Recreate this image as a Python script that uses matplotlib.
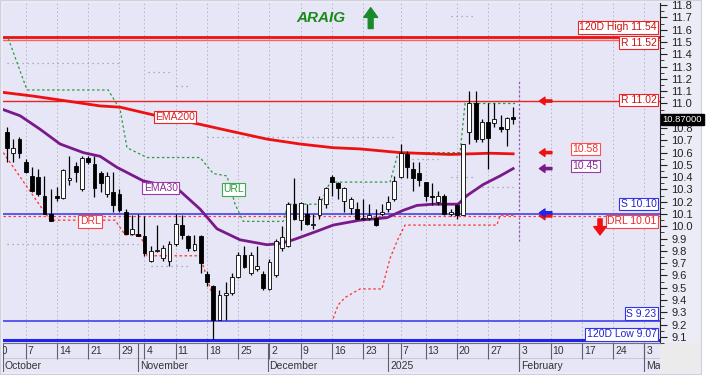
import matplotlib.pyplot as plt
from matplotlib.patches import Rectangle
import numpy as np

plt.rcParams['font.family'] = ['Liberation Sans', 'DejaVu Sans']

# daily candles (trading-day index 0..81)
opens = [10.77, 10.60, 10.71, 10.52, 10.41, 10.40, 10.25, 10.10, 10.25, 10.23,
         10.38, 10.49, 10.30, 10.56, 10.51, 10.43, 10.26, 10.28, 10.26, 10.12,
         9.94, 9.94, 9.92, 9.72, 9.80, 9.74, 9.72, 9.86, 10.01, 9.92,
         9.81, 9.92, 9.61, 9.51, 9.24, 9.44, 9.46, 9.59, 9.77, 9.62,
         9.65, 9.61, 9.49, 9.60, 9.82, 9.84, 10.18, 10.05, 10.10, 10.01,
         10.09, 10.18, 10.40, 10.35, 10.21, 10.15, 10.14, 10.06, 10.07, 10.07,
         10.10, 10.14, 10.22, 10.40, 10.59, 10.47, 10.43, 10.36, 10.25, 10.20,
         10.25, 10.10, 10.17, 10.09, 10.77, 11.00, 10.71, 10.85, 10.84, 10.81,
         10.79, 10.89]
highs = [10.81, 10.71, 10.73, 10.55, 10.48, 10.47, 10.41, 10.30, 10.32, 10.47,
         10.57, 10.52, 10.57, 10.57, 10.57, 10.45, 10.44, 10.44, 10.30, 10.14,
         10.09, 10.10, 10.08, 9.84, 10.01, 9.85, 9.88, 10.10, 10.09, 9.93,
         9.93, 9.93, 9.64, 9.52, 9.48, 9.55, 9.62, 9.79, 9.84, 9.79,
         9.84, 9.64, 9.73, 9.90, 10.00, 10.20, 10.39, 10.20, 10.18, 10.10,
         10.25, 10.32, 10.42, 10.36, 10.32, 10.24, 10.20, 10.22, 10.18, 10.14,
         10.18, 10.25, 10.41, 10.67, 10.61, 10.52, 10.52, 10.36, 10.35, 10.29,
         10.26, 10.14, 10.18, 10.67, 11.10, 11.10, 10.87, 11.00, 11.00, 10.91,
         10.89, 10.97]
lows = [10.52, 10.52, 10.56, 10.43, 10.28, 10.25, 10.10, 10.04, 10.21, 10.22,
        10.34, 10.36, 10.29, 10.51, 10.24, 10.28, 10.24, 10.12, 10.12, 9.94,
        9.93, 9.92, 9.76, 9.71, 9.79, 9.72, 9.68, 9.84, 9.90, 9.80,
        9.80, 9.62, 9.51, 9.08, 9.24, 9.24, 9.44, 9.58, 9.66, 9.60,
        9.64, 9.48, 9.48, 9.59, 9.80, 9.83, 10.05, 9.97, 10.01, 9.98,
        10.06, 10.15, 10.25, 10.22, 10.12, 10.10, 10.06, 10.05, 10.05, 10.00,
        10.08, 10.12, 10.21, 10.39, 10.39, 10.29, 10.33, 10.21, 10.17, 10.17,
        10.09, 10.08, 10.06, 10.09, 10.67, 10.69, 10.69, 10.47, 10.81, 10.77,
        10.65, 10.83]
closes = [10.64, 10.64, 10.60, 10.44, 10.29, 10.26, 10.10, 10.04, 10.23, 10.46,
          10.39, 10.44, 10.56, 10.52, 10.31, 10.35, 10.41, 10.17, 10.13, 9.94,
          9.98, 9.92, 9.78, 9.80, 9.80, 9.82, 9.86, 10.02, 9.93, 9.82,
          9.86, 9.70, 9.55, 9.24, 9.44, 9.46, 9.59, 9.77, 9.67, 9.77,
          9.68, 9.50, 9.71, 9.88, 9.91, 10.18, 10.06, 10.19, 10.02, 10.02,
          10.22, 10.31, 10.36, 10.31, 10.31, 10.22, 10.06, 10.07, 10.09, 10.01,
          10.12, 10.20, 10.37, 10.60, 10.48, 10.39, 10.38, 10.25, 10.24, 10.25,
          10.10, 10.12, 10.09, 10.67, 11.00, 10.71, 10.85, 10.72, 10.87, 10.79,
          10.88, 10.87]

# moving averages read at sample days
ema200_x = [-0.6, 4.2, 9.6, 14.9, 18.1, 24, 30.9, 36.2, 41.6, 46.9, 52.2, 56.5, 62.9, 70.9, 77.3, 81]
ema200_y = [11.09, 11.06, 11.02, 10.98, 10.97, 10.90, 10.83, 10.77, 10.71, 10.67, 10.64, 10.63, 10.60, 10.585, 10.595, 10.59]
ema30_x = [-0.6, 2.1, 5.3, 8.5, 12.2, 14.9, 17.6, 21.8, 27.2, 30.9, 33.6, 37.3, 41.6, 43.7, 45.8,
           49.6, 52.2, 56.5, 60.8, 63.4, 65.6, 68.2, 70.9, 72.2, 73.6, 76.2, 78.9, 81]
ema30_y = [10.95, 10.90, 10.79, 10.67, 10.60, 10.57, 10.48, 10.37, 10.31, 10.14, 9.98, 9.89, 9.85, 9.86, 9.89,
           9.96, 10.01, 10.05, 10.07, 10.13, 10.17, 10.18, 10.18, 10.18, 10.25, 10.34, 10.41, 10.47]

# upper / lower reference lines
url_x = [0.2, 3.2, 16.2, 18.1, 19.2, 22.4, 30.9, 33.0, 35.2, 36.5, 37.8, 44.2, 45.0, 50.1, 51.7, 61.3, 62.6, 72.5, 73.3, 81.3]
url_y = [11.53, 11.11, 11.11, 10.95, 10.64, 10.56, 10.56, 10.43, 10.41, 10.18, 10.04, 10.04, 10.18, 10.18, 10.36, 10.36, 10.60, 10.60, 11.00, 11.00]
drl1_x = [-0.6, 6.9, 17.3, 18.9, 21.4, 22.4, 30.9, 33.0, 33.3]
drl1_y = [10.60, 10.05, 10.05, 9.93, 9.93, 9.76, 9.76, 9.42, 9.24]
drl2_x = [52.2, 53.0, 54.1, 56.5, 60.0, 61.3, 62.6, 63.7, 78.4, 78.9, 81.3]
drl2_y = [9.25, 9.36, 9.42, 9.49, 9.49, 9.74, 9.90, 10.01, 10.01, 10.09, 10.09]

# dotted grey levels: (price, from day, to day)
gray_levels = [(11.33, 0, 18), (11.26, 22.5, 26.5), (11.14, 27, 29), (10.73, 32, 62),
               (10.55, 64, 69), (11.71, 71, 75), (9.86, 0, 21), (9.68, 23, 29),
               (10.40, 71, 75), (10.32, 76, 81)]

# date axis
day_ticks = [-2, 3, 8, 13, 18, 22, 27, 32, 37, 42, 47, 52, 57, 63, 67, 72, 77, 82, 87, 92, 97, 102]
day_labels = ['30', '7', '14', '21', '29', '4', '11', '18', '25', '2', '9', '16', '23',
              '7', '13', '20', '27', '3', '10', '17', '24', '3']
month_ticks = [-0.64, 21, 41.7, 61, 82, 102]
month_labels = ['October', 'November', 'December', '2025', 'February', 'March']

W, H = 708, 380
fig = plt.figure(figsize=(W / 100, H / 100), dpi=100)
fig.patch.set_facecolor('white')
fig.patches.append(Rectangle((0, 6 / H), 701 / W, 1 - 6 / H, transform=fig.transFigure,
                             facecolor='#ececf7', edgecolor='#d0d0dc', lw=0.8, zorder=-2))
fig.patches.append(Rectangle((660 / W, 8 / H), 40 / W, 29 / H, transform=fig.transFigure,
                             facecolor='#ebebeb', edgecolor='none', zorder=-1))

ax = fig.add_axes([3 / W, 37 / H, 657 / W, 340 / H])
bx = fig.add_axes([3 / W, 8 / H, 657 / W, 29 / H], sharex=ax)

ax.set_facecolor('#e6e6f6')
ax.set_xlim(-0.64, 104.5)
ax.set_ylim(9.062, 11.818)
for s in ['top', 'left']:
    ax.spines[s].set_visible(False)
ax.spines['bottom'].set_color('#9a9aa8')
ax.spines['right'].set_color('#222222')
ax.yaxis.tick_right()
ax.set_yticks(np.round(np.arange(9.1, 11.81, 0.1), 1))
ax.set_yticks(np.round(np.arange(9.05, 11.81, 0.1), 2), minor=True)
# 10.9 sits under the last-price box
ax.yaxis.set_major_formatter(plt.FuncFormatter(lambda v, p: '' if abs(v - 10.9) < 0.01 else '%.1f' % v))
ax.tick_params(axis='y', which='major', length=5, width=0.8, labelsize=8, pad=3, colors='#222222')
ax.tick_params(axis='y', which='minor', length=3, width=0.6, colors='#222222')
ax.tick_params(axis='x', bottom=False, labelbottom=False)

# vertical dotted grid
for t in day_ticks:
    ax.axvline(t, color='#b4b4c4', lw=0.7, ls=(0, (1.5, 2.5)), zorder=1)

# levels
ax.axhline(11.54, color='#ee1111', lw=2.0, zorder=2)
ax.axhline(11.52, color='#ff6060', lw=1.0, zorder=2)
ax.axhline(11.02, color='#ee2222', lw=1.0, zorder=2)
ax.axhline(10.10, color='#3333ee', lw=1.1, zorder=2)
ax.axhline(10.085, color='#ff4040', lw=0.9, ls=(0, (2, 2)), zorder=2)
ax.axhline(9.23, color='#3333ee', lw=1.1, zorder=2)
ax.axhline(9.075, color='#2222ee', lw=2.2, zorder=2)

for p, a, b in gray_levels:
    ax.hlines(p, a, b, color='#9a9aa8', lw=0.9, ls=(0, (1, 3)), zorder=2)

ax.plot(url_x, url_y, color='#2e9a3e', lw=0.9, ls=(0, (2, 2)), zorder=2)
ax.plot(drl1_x, drl1_y, color='#ff3030', lw=0.9, ls=(0, (2, 2)), zorder=2)
ax.plot(drl2_x, drl2_y, color='#ff3030', lw=0.9, ls=(0, (2, 2)), zorder=2)

ax.plot(ema200_x, ema200_y, color='#ee1111', lw=2.0, zorder=3)
ax.plot(ema30_x, ema30_y, color='#7a1a8a', lw=2.0, zorder=3)

# candles
o = np.array(opens); c = np.array(closes)
x = np.arange(len(o))
up = c >= o
bottom = np.minimum(o, c)
height = np.maximum(np.abs(c - o), 0.01)
ax.vlines(x, lows, highs, color='black', lw=0.9, zorder=4)
ax.bar(x, height, bottom=bottom, width=0.62, color=np.where(up, 'white', 'black'),
       edgecolor='black', lw=0.6, zorder=5)

# today marker
ax.vlines(82, 9.88, 11.19, color='#9a4aa8', lw=0.9, ls=(0, (1.5, 2)), zorder=3)

# labels on lines
def box(xv, yv, txt, col, tc=None, ha='center', trans=None, fs=7.5):
    ax.text(xv, yv, txt, color=tc or col, fontsize=fs, ha=ha, va='center', zorder=7,
            transform=trans or ax.transData,
            bbox=dict(boxstyle='square,pad=0.12', fc='white', ec=col, lw=0.8))

box(26.9, 10.89, 'EMA200', '#ee2222', '#dd2222')
box(24.6, 10.31, 'EMA30', '#9a3aa8', '#8a2a98')
box(36.3, 10.30, 'URL', '#3aaa4a', '#2a9a3a')
box(13.3, 10.04, 'DRL', '#ff4040', '#ee3030')

yt = ax.get_yaxis_transform()
right = 0.9945
box(right, 11.62, '120D High 11.54', '#ee2222', '#cc1111', ha='right', trans=yt)
box(right, 11.495, 'R 11.52', '#ee2222', '#cc1111', ha='right', trans=yt)
box(right, 11.03, 'R 11.02', '#ee2222', '#cc1111', ha='right', trans=yt)
box(92.6, 10.63, '10.58', '#ff5050', '#ee3030')
box(92.6, 10.49, '10.45', '#9a3aa8', '#8a2a98')
box(right, 10.18, 'S 10.10', '#3333ee', '#2222cc', ha='right', trans=yt)
box(right, 10.04, 'DRL 10.01', '#ff4040', '#ee2222', ha='right', trans=yt)
box(right, 9.29, 'S 9.23', '#3333ee', '#2222cc', ha='right', trans=yt)
box(right, 9.12, '120D Low 9.07', '#3333ee', '#2222cc', ha='right', trans=yt)

ax.text(1.004, closes[-1], '%.5f' % closes[-1], transform=yt, color='white', fontsize=6.8,
        ha='left', va='center', zorder=8, clip_on=False,
        bbox=dict(boxstyle='square,pad=0.15', fc='black', ec='black'))

# arrows
for p, col in [(11.02, '#ee1111'), (10.60, '#ee1111'), (10.47, '#7a1a8a'), (10.085, '#ee1111'), (10.11, '#2222ee')]:
    ax.annotate('', xy=(85.2, p), xytext=(87.2, p),
                arrowprops=dict(width=1.6, headwidth=5.5, headlength=4, color=col, shrink=0), zorder=7)
ax.annotate('', xy=(94.9, 9.93), xytext=(94.9, 10.06),
            arrowprops=dict(width=3, headwidth=9, headlength=6, color='#ee1111', shrink=0), zorder=7)
ax.annotate('', xy=(58.2, 11.78), xytext=(58.2, 11.61),
            arrowprops=dict(width=3.5, headwidth=10, headlength=7, color='#1a8a2a', shrink=0), zorder=7)
ax.text(50.3, 11.695, 'ARAIG', color='#1a8a1a', fontsize=11, fontweight='bold', style='italic',
        ha='center', va='center', zorder=7)

# date band
bx.set_facecolor('#e6e6f6')
bx.set_ylim(0, 1)
bx.set_yticks([])
bx.tick_params(axis='x', bottom=False, labelbottom=False)
for s in ['left', 'right', 'bottom']:
    bx.spines[s].set_visible(False)
bx.spines['top'].set_color('#707080')
bx.axhline(0.48, color='#c4c4d0', lw=0.6)
bx.vlines(day_ticks, 0.45, 1, color='#606070', lw=0.8)
bx.vlines(month_ticks, 0, 1, color='#606070', lw=0.8)
for t, lab in zip(day_ticks, day_labels):
    bx.text(t + 0.3, 0.72, lab, fontsize=7.5, color='#333333', ha='left', va='center', clip_on=True)
for t, lab in zip(month_ticks, month_labels):
    bx.text(t + 0.3, 0.22, lab, fontsize=7.5, color='#333333', ha='left', va='center', clip_on=True)

fig.savefig('out.png', dpi=100)
